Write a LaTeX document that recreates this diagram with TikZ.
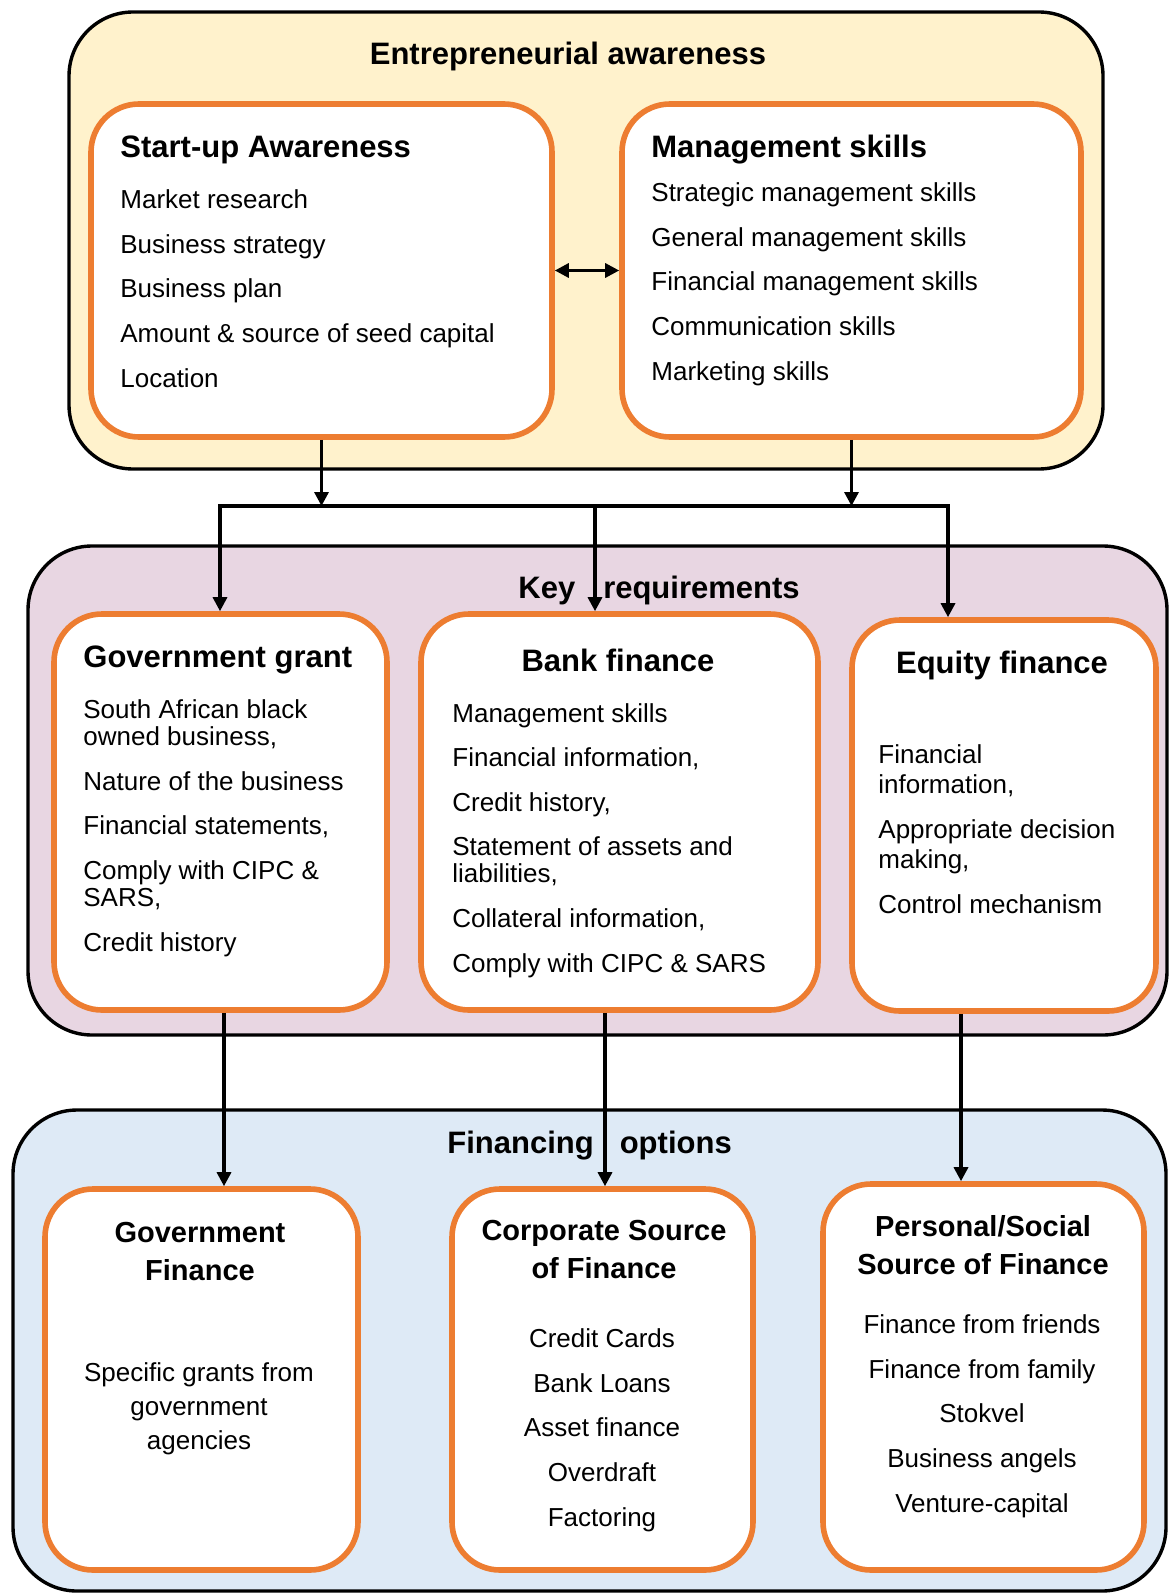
\documentclass[tikz,border=0pt]{standalone}
\usepackage{fontspec}
\setmainfont{Liberation Sans}
\usetikzlibrary{arrows.meta}
\definecolor{awareyellow}{HTML}{FFF2CC}
\definecolor{keypink}{HTML}{E8D6E2}
\definecolor{optblue}{HTML}{DEEAF6}
\definecolor{boxorange}{HTML}{ED7D31}
\tikzset{
	panel/.style={draw=black, line width=1.7pt, rounded corners=32pt, inner sep=0},
	inbox/.style={draw=boxorange, fill=white, line width=2.8pt, rounded corners=24pt, inner sep=0},
	head/.style={font=\fontsize{15.5}{19}\selectfont\bfseries, inner sep=0},
	subhead/.style={font=\fontsize{14.5}{19}\selectfont\bfseries, inner sep=0, align=center, anchor=base},
	item/.style={font=\fontsize{13}{22.3}\selectfont, inner sep=0, align=left, anchor=base west},
	citem/.style={font=\fontsize{13}{22.3}\selectfont, inner sep=0, align=center, anchor=base},
	conn/.style={line width=1.6pt, -{Triangle[length=7pt,width=7pt]}},
	twoway/.style={arrows={Triangle[length=7pt,width=7pt]-Triangle[length=7pt,width=7pt]}}
}

\begin{document}
\begin{tikzpicture}[x=0.5pt, y=-0.5pt]
	%%%%% START %%%%%
	\useasboundingbox (0,0) rectangle (1170,1594);
	
	\node[panel, fill=awareyellow, minimum width=517pt, minimum height=228.5pt] (aware) at (586,240.5) {};
	\node[panel, fill=keypink, minimum width=569.5pt, minimum height=244.5pt] (keyreq) at (597.5,790.5) {};
	\node[panel, fill=optblue, minimum width=576.5pt, minimum height=240.5pt] (options) at (589.5,1350.5) {};
	
	\node[head, anchor=base] (awaretitle) at (568,65) {Entrepreneurial awareness};
	\node[head, anchor=base west] (keytitle) at (518,598) {Key\hspace{14pt}requirements};
	\node[head, anchor=base west] (opttitle) at (447,1153) {Financing\hspace{13pt}options};
	
	\node[inbox, minimum width=230.5pt, minimum height=166.5pt] (startup) at (321.5,270.5) {};
	\node[inbox, minimum width=229.5pt, minimum height=166.5pt] (mgmt) at (851.5,270.5) {};
	
	\node[inbox, minimum width=166.5pt, minimum height=198pt] (grant) at (220.5,812) {};
	\node[inbox, minimum width=198.5pt, minimum height=198pt] (bank) at (619.5,812) {};
	\node[inbox, minimum width=152pt, minimum height=195.5pt] (equity) at (1004,815.5) {};
	
	\node[inbox, minimum width=156.5pt, minimum height=190.5pt] (govfin) at (201.5,1379.5) {};
	\node[inbox, minimum width=150.5pt, minimum height=190.5pt] (corp) at (602.5,1379.5) {};
	\node[inbox, minimum width=160.5pt, minimum height=193pt] (personal) at (983.5,1377) {};
	
	% multi-line nodes sit on their last line
	\node[head, anchor=base west] (suhead) at (120,158) {Start-up Awareness};
	\node[item] (sulist) at (120,387) {Market research\\Business strategy\\Business plan\\Amount \& source of seed capital\\Location};
	
	\node[head, anchor=base west] (mghead) at (651,158) {Management skills};
	\node[item] (mglist) at (651,380) {Strategic management skills\\General management skills\\Financial management skills\\Communication skills\\Marketing skills};
	
	\node[head, anchor=base west] (grhead) at (83,667) {Government grant};
	\node[item] (grlist) at (83,951) {South African black\\[-8.8pt]owned business,\\Nature of the business\\Financial statements,\\Comply with CIPC \&\\[-8.8pt]SARS,\\Credit history};
	
	\node[head, anchor=base] (bkhead) at (618,671) {Bank finance};
	\node[item] (bklist) at (452,972) {Management skills\\Financial information,\\Credit history,\\Statement of assets and\\[-8.8pt]liabilities,\\Collateral information,\\Comply with CIPC \& SARS};
	
	\node[head, anchor=base] (eqhead) at (1002,673) {Equity finance};
	\node[item] (eqlist) at (878,913) {Financial\\[-7.3pt]information,\\Appropriate decision\\[-7.3pt]making,\\Control mechanism};
	
	\node[subhead] (gfhead) at (200,1280) {Government\\Finance};
	\node[citem] (gflist) at (199,1449) {Specific grants from\\[-5.3pt]government\\[-5.3pt]agencies};
	
	\node[subhead] (cphead) at (604,1278) {Corporate Source\\of Finance};
	\node[citem] (cplist) at (602,1526) {Credit Cards\\Bank Loans\\Asset finance\\Overdraft\\Factoring};
	
	\node[subhead] (pshead) at (983,1274) {Personal/Social\\Source of Finance};
	\node[citem] (pslist) at (982,1512) {Finance from friends\\Finance from family\\Stokvel\\Business angels\\Venture-capital};
	
	\coordinate (busL) at (220,506);
	\coordinate (busM) at (595,506);
	\coordinate (busR) at (948,506);
	\coordinate (drop1) at (224,0);
	\coordinate (drop2) at (605,0);
	\coordinate (drop3) at (961,0);
	
	\draw[conn, twoway] (startup.east) -- (mgmt.west);
	\draw[conn] (startup.south) -- (startup.south |- busL);
	\draw[conn] (mgmt.south) -- (mgmt.south |- busL);
	\draw[conn, twoway] (busL |- grant.north) -- (busL) -- (busR) -- (busR |- equity.north);
	\draw[conn] (busM) -- (busM |- bank.north);
	
	\draw[conn] (grant.south -| drop1) -- (govfin.north -| drop1);
	\draw[conn] (bank.south -| drop2) -- (corp.north -| drop2);
	\draw[conn] (equity.south -| drop3) -- (personal.north -| drop3);
	%%%%% END %%%%%
\end{tikzpicture}
\end{document}
